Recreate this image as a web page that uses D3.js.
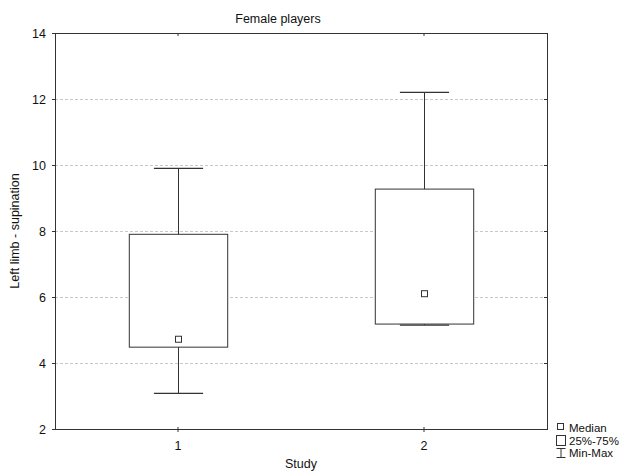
<!DOCTYPE html>
<html>
<head>
<meta charset="utf-8">
<script src="https://cdn.jsdelivr.net/npm/d3@7"></script>
<style>
  body { margin: 0; background: #fff; }
  svg { font-family: "Liberation Sans", Arial, sans-serif; }
</style>
</head>
<body>
<svg id="chart"></svg>
<script>
// data
const studies = ["1", "2"];
const minValues = [3.08, 5.15];
const q1Values = [4.48, 5.18];
const medianValues = [4.72, 6.1];
const q3Values = [7.9, 9.27];
const maxValues = [9.9, 12.2];
const yTicks = [2, 4, 6, 8, 10, 12, 14];
const legendLabels = ["Median", "25%-75%", "Min-Max"];

const width = 627;
const height = 474;
const margin = { top: 33, right: 80, bottom: 45, left: 55 };
const bodyWidth = width - margin.left - margin.right;
const bodyHeight = height - margin.top - margin.bottom;
const ink = "#333";
const fontSize = 12.5;

const svg = d3.select("#chart")
    .attr("width", width)
    .attr("height", height);

const xScale = d3.scaleBand()
    .range([0, bodyWidth])
    .domain(studies)
    .padding(0);

const yScale = d3.scaleLinear()
    .range([bodyHeight, 0])
    .domain([2, 14]);

const body = svg.append("g")
    .attr("transform", `translate(${margin.left},${margin.top})`);

// grid
body.selectAll(".grid")
    .data(yTicks.filter(t => t > 2 && t < 14))
    .enter().append("line")
    .attr("x1", 0).attr("x2", bodyWidth)
    .attr("y1", d => yScale(d) + 0.5).attr("y2", d => yScale(d) + 0.5)
    .attr("stroke", "#c8c8c8")
    .attr("stroke-dasharray", "3,2");

const boxes = studies.map((s, i) => ({
    study: s, min: minValues[i], q1: q1Values[i], median: medianValues[i],
    q3: q3Values[i], max: maxValues[i]
}));

const boxW = xScale.bandwidth() * 0.4;
const capW = boxW / 2;
const cx = d => Math.round(xScale(d.study) + xScale.bandwidth() / 2) + 0.5;

const g = body.selectAll(".box").data(boxes).enter().append("g");

// whiskers
g.append("line")
    .attr("x1", cx).attr("x2", cx)
    .attr("y1", d => yScale(d.max)).attr("y2", d => yScale(d.min))
    .attr("stroke", ink);
g.append("line")
    .attr("x1", d => cx(d) - capW / 2).attr("x2", d => cx(d) + capW / 2)
    .attr("y1", d => yScale(d.max)).attr("y2", d => yScale(d.max))
    .attr("stroke", ink).attr("stroke-width", 1.3);
g.append("line")
    .attr("x1", d => cx(d) - capW / 2).attr("x2", d => cx(d) + capW / 2)
    .attr("y1", d => yScale(d.min)).attr("y2", d => yScale(d.min))
    .attr("stroke", ink).attr("stroke-width", 1.3);

// box
g.append("rect")
    .attr("x", d => cx(d) - boxW / 2)
    .attr("width", boxW)
    .attr("y", d => yScale(d.q3))
    .attr("height", d => yScale(d.q1) - yScale(d.q3))
    .attr("fill", "#fff")
    .attr("stroke", ink);

// median
g.append("rect")
    .attr("x", d => cx(d) - 3)
    .attr("y", d => yScale(d.median) - 3)
    .attr("width", 6).attr("height", 6)
    .attr("fill", "#fff")
    .attr("stroke", ink);

// frame
body.append("rect")
    .attr("x", 0.5).attr("y", 0.5)
    .attr("width", bodyWidth).attr("height", bodyHeight)
    .attr("fill", "none")
    .attr("stroke", ink);

// axes
const axisY = d3.axisLeft(yScale).tickValues(yTicks).tickSize(3).tickPadding(6);
const yAxis = body.append("g").call(axisY);
yAxis.select(".domain").remove();
yAxis.selectAll("line").attr("stroke", ink);
yAxis.selectAll("text").attr("font-size", fontSize).attr("fill", "#111");

const axisR = d3.axisLeft(yScale).tickValues(yTicks).tickSize(3).tickFormat("");
const rAxis = body.append("g").attr("transform", `translate(${bodyWidth},0)`).call(axisR);
rAxis.select(".domain").remove();
rAxis.selectAll("line").attr("x2", -3).attr("stroke", ink);

const axisX = d3.axisBottom(xScale).tickSize(3).tickPadding(9);
const xAxis = body.append("g").attr("transform", `translate(0,${bodyHeight})`).call(axisX);
xAxis.select(".domain").remove();
xAxis.selectAll("line").attr("stroke", ink).attr("y1", -2);
xAxis.selectAll("text").attr("font-size", fontSize).attr("fill", "#111");

const axisT = d3.axisTop(xScale).tickSize(-3).tickFormat("");
const tAxis = body.append("g").call(axisT);
tAxis.select(".domain").remove();
tAxis.selectAll("line").attr("stroke", ink);

// labels
svg.append("text")
    .attr("x", 278).attr("y", 23)
    .attr("text-anchor", "middle").attr("font-size", fontSize).attr("fill", "#111")
    .text("Female players");

svg.append("text")
    .attr("x", 301).attr("y", 468)
    .attr("text-anchor", "middle").attr("font-size", fontSize).attr("fill", "#111")
    .text("Study");

svg.append("text")
    .attr("transform", `translate(19,${margin.top + bodyHeight / 2}) rotate(-90)`)
    .attr("text-anchor", "middle").attr("font-size", fontSize).attr("fill", "#111")
    .text("Left limb - supination");

// legend
const legend = svg.append("g").attr("transform", "translate(556,422)");
legend.append("rect")
    .attr("x", 1.5).attr("y", 1.5).attr("width", 6).attr("height", 6)
    .attr("fill", "#fff").attr("stroke", ink);
legend.append("rect")
    .attr("x", 0.5).attr("y", 13.5).attr("width", 9).attr("height", 10)
    .attr("fill", "#fff").attr("stroke", ink);
legend.append("path")
    .attr("d", "M0.5,26.5H9.5M5,26.5V35.5M0.5,35.5H9.5")
    .attr("fill", "none").attr("stroke", ink);
legend.selectAll(".label")
    .data(legendLabels)
    .enter().append("text")
    .attr("x", 13)
    .attr("y", (d, i) => 10 + i * 12.5)
    .attr("font-size", 11.5)
    .attr("fill", "#111")
    .text(d => d);
</script>
</body>
</html>
